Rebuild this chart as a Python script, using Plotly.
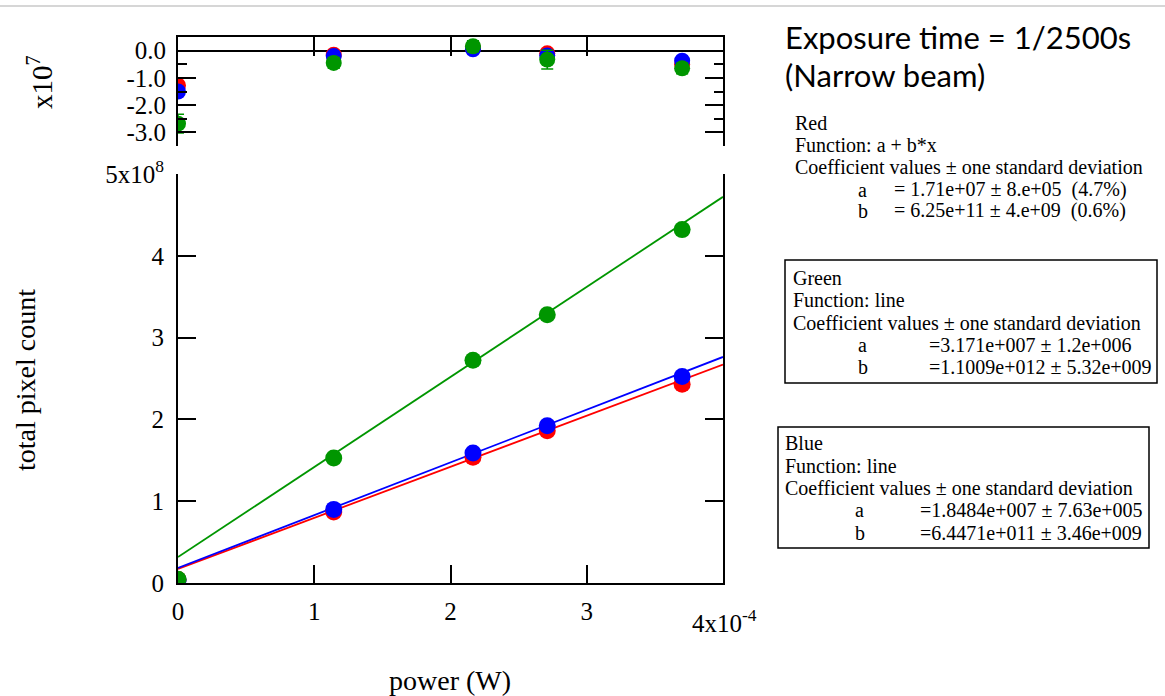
import plotly.graph_objects as go

W, H = 1165, 696

# measured powers (W)
power = [0.0, 1.143e-4, 2.165e-4, 2.71e-4, 3.70e-4]

# total pixel counts
red_counts = [0.43e7, 8.69e7, 15.37e7, 18.60e7, 24.30e7]
blue_counts = [0.36e7, 9.00e7, 15.89e7, 19.21e7, 25.25e7]
green_counts = [0.47e7, 15.27e7, 27.22e7, 32.78e7, 43.20e7]

# fit residuals
red_res = [-1.28e7, -0.15e7, 0.10e7, -0.10e7, -0.50e7]
blue_res = [-1.50e7, -0.20e7, 0.05e7, -0.18e7, -0.37e7]
green_res = [-2.68e7, -0.45e7, 0.16e7, -0.33e7, -0.65e7]
green_res_err = [0.345e7, 0.2e7, 0.2e7, 0.345e7, 0.2e7]

# fit coefficients (a + b*x)
red_fit = (1.71e7, 6.25e11)
green_fit = (3.171e7, 1.1009e12)
blue_fit = (1.8484e7, 6.4471e11)
fit_x = [0.0, 4e-4]

RED = "rgb(255,0,0)"
BLUE = "rgb(0,0,255)"
GREEN = "rgb(0,150,0)"


def px(x):
    return x / W


def py(y):
    return 1 - y / H


fig = go.Figure()

# residual panel
for res, col in [(red_res, RED), (blue_res, BLUE)]:
    fig.add_trace(go.Scatter(x=power, y=res, mode="markers",
                             marker=dict(color=col, size=16),
                             xaxis="x2", yaxis="y2", showlegend=False))
fig.add_trace(go.Scatter(x=power, y=green_res, mode="markers",
                         marker=dict(color=GREEN, size=16),
                         error_y=dict(type="data", array=green_res_err, color=GREEN,
                                      thickness=1.5, width=6),
                         xaxis="x2", yaxis="y2", showlegend=False))

# main panel: fit lines then points
for (a, b), col in [(red_fit, RED), (blue_fit, BLUE), (green_fit, GREEN)]:
    fig.add_trace(go.Scatter(x=fit_x, y=[a + b * v for v in fit_x], mode="lines",
                             line=dict(color=col, width=1.8), showlegend=False))
for counts, col in [(red_counts, RED), (blue_counts, BLUE), (green_counts, GREEN)]:
    fig.add_trace(go.Scatter(x=power, y=counts, mode="markers",
                             marker=dict(color=col, size=17), showlegend=False))

tick_font = dict(family="Liberation Serif", size=25, color="black")
xdom = [px(178), px(723)]

fig.update_layout(
    width=W, height=H,
    margin=dict(l=0, r=0, t=0, b=0),
    paper_bgcolor="white", plot_bgcolor="white",
    xaxis=dict(domain=xdom, range=[0, 4e-4], anchor="y", automargin=False,
               tickvals=[0, 1e-4, 2e-4, 3e-4], ticktext=["0", "1", "2", "3"],
               ticks="inside", ticklen=18, tickwidth=2, tickcolor="black",
               ticklabelstandoff=5,
               showline=True, linewidth=2, linecolor="black", mirror=False,
               showgrid=False, zeroline=False, tickfont=tick_font),
    yaxis=dict(domain=[py(583), py(174)], range=[0, 5e8], anchor="x", automargin=False,
               tickvals=[0, 1e8, 2e8, 3e8, 4e8, 5e8],
               ticktext=["0", "1", "2", "3", "4", "5x10<sup>8</sup>"],
               ticks="inside", ticklen=18, tickwidth=2, tickcolor="black",
               ticklabelstandoff=7,
               showline=True, linewidth=2, linecolor="black", mirror="ticks",
               showgrid=False, zeroline=False, tickfont=tick_font),
    xaxis2=dict(domain=xdom, range=[0, 4e-4], anchor="y2", side="top", automargin=False,
                tickvals=[1e-4, 2e-4, 3e-4], showticklabels=False,
                ticks="inside", ticklen=19, tickwidth=2, tickcolor="black",
                showline=True, linewidth=2, linecolor="black", mirror=False,
                showgrid=False, zeroline=False),
    yaxis2=dict(domain=[py(146), py(37)], range=[-3.5e7, 0.5e7], anchor="x2", automargin=False,
                tickvals=[0, -1e7, -2e7, -3e7],
                ticktext=["0.0", "-1.0", "-2.0", "-3.0"],
                ticks="inside", ticklen=18, tickwidth=2, tickcolor="black",
                ticklabelstandoff=5,
                minor=dict(tickvals=[-0.5e7, -1.5e7, -2.5e7, -3.5e7], ticks="inside",
                           ticklen=9, tickwidth=2, tickcolor="black"),
                showline=True, linewidth=2, linecolor="black", mirror="ticks",
                showgrid=False, zeroline=True, zerolinecolor="black", zerolinewidth=2,
                tickfont=tick_font),
)

annotations = []


def text(s, x, y, size=20, family="Liberation Serif", xanchor="left", angle=0):
    annotations.append(dict(text=s, x=px(x), y=py(y), xref="paper", yref="paper",
                            xanchor=xanchor, yanchor="middle", showarrow=False,
                            textangle=angle,
                            font=dict(family=family, size=size, color="black")))


text("4x10<sup>-4</sup>", 724, 621, size=25, xanchor="center")
text("power (W)", 450, 680, size=28, xanchor="center")
text("total pixel count", 25, 380, size=28, xanchor="center", angle=-90)
text("x10<sup>7</sup>", 40, 82, size=29, xanchor="center", angle=-90)

text("Exposure time = 1/2500s", 783, 37, size=31, family="Lato")
text("(Narrow beam)", 783, 75, size=31, family="Lato")

# red block (no frame)
text("Red", 793, 123)
text("Function: a + b*x", 793, 145)
text("Coefficient values ± one standard deviation", 793, 167)
text("a", 856, 190)
text("= 1.71e+07 ± 8.e+05  (4.7%)", 892, 190)
text("b", 856, 211)
text("= 6.25e+11 ± 4.e+09  (0.6%)", 892, 211)

# green block
text("Green", 791, 278)
text("Function: line", 791, 300)
text("Coefficient values ± one standard deviation", 791, 323)
text("a", 856, 345)
text("=3.171e+007 ± 1.2e+006", 927, 345)
text("b", 856, 367)
text("=1.1009e+012 ± 5.32e+009", 927, 367)

# blue block
text("Blue", 783, 443)
text("Function: line", 783, 466)
text("Coefficient values ± one standard deviation", 783, 488)
text("a", 853, 510)
text("=1.8484e+007 ± 7.63e+005", 918, 510)
text("b", 853, 533)
text("=6.4471e+011 ± 3.46e+009", 918, 533)

fig.update_layout(annotations=annotations)

fig.add_shape(type="line", xref="paper", yref="paper",
              x0=0, x1=1, y0=py(6), y1=py(6), line=dict(color="rgb(200,200,200)", width=1.5))
fig.add_shape(type="rect", xref="paper", yref="paper",
              x0=px(785), x1=px(1157), y0=py(383), y1=py(260),
              line=dict(color="black", width=1.5))
fig.add_shape(type="rect", xref="paper", yref="paper",
              x0=px(778), x1=px(1149), y0=py(548), y1=py(427),
              line=dict(color="black", width=1.5))

# page has an 8px body margin by default; drop it so the figure sits at 0,0
fig.write_html("out.html", config={"displayModeBar": False},
               post_script="document.body.style.margin='0';")
